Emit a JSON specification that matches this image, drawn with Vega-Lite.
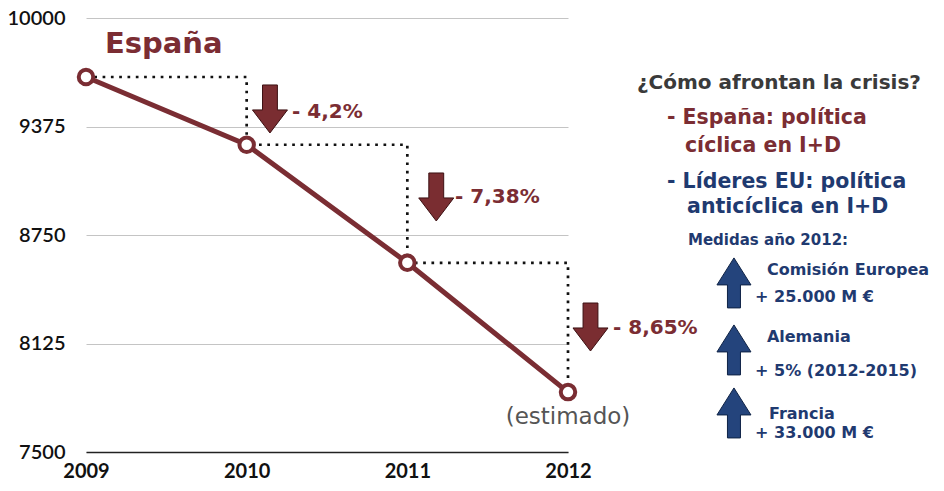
{
  "$schema": "https://vega.github.io/schema/vega-lite/v6.json",
  "width": 482,
  "height": 434,
  "autosize": {"type": "none"},
  "padding": {"left": 86, "top": 18, "right": 376, "bottom": 39},
  "background": "white",
  "config": {"view": {"stroke": null}, "font": "DejaVu Sans"},
  "datasets": {
    "series": [
      {"year": 2009, "value": 9660},
      {"year": 2010, "value": 9270},
      {"year": 2011, "value": 8590},
      {"year": 2012, "value": 7845}
    ],
    "arrows": [
      {"kind": "down", "x": 2010.145, "y": 9476},
      {"kind": "down", "x": 2011.18, "y": 8969},
      {"kind": "down", "x": 2012.14, "y": 8220},
      {"kind": "up", "x": 2013.033, "y": 8474},
      {"kind": "up", "x": 2013.033, "y": 8088},
      {"kind": "up", "x": 2013.033, "y": 7725}
    ],
    "labels": [
      {"kind": "title", "x": 2009.118, "y": 9850, "text": "España"},
      {"kind": "pct", "x": 2010.282, "y": 9459, "text": "- 4,2%"},
      {"kind": "pct", "x": 2011.297, "y": 8969, "text": "- 7,38%"},
      {"kind": "pct", "x": 2012.28, "y": 8214, "text": "- 8,65%"},
      {"kind": "note", "x": 2012.0, "y": 7700, "text": "(estimado)"},
      {"kind": "question", "x": 2012.429, "y": 9626, "text": "¿Cómo afrontan la crisis?"},
      {"kind": "spain", "x": 2012.616, "y": 9424, "text": "- España: política"},
      {"kind": "spain", "x": 2012.728, "y": 9263, "text": "cíclica en I+D"},
      {"kind": "eu", "x": 2012.616, "y": 9055, "text": "- Líderes EU: política"},
      {"kind": "eu", "x": 2012.741, "y": 8911, "text": "anticíclica en I+D"},
      {"kind": "medidas", "x": 2012.747, "y": 8721, "text": "Medidas año 2012:"},
      {"kind": "measure", "x": 2013.238, "y": 8548, "text": "Comisión Europea"},
      {"kind": "measure", "x": 2013.164, "y": 8393, "text": "+ 25.000 M €"},
      {"kind": "measure", "x": 2013.238, "y": 8162, "text": "Alemania"},
      {"kind": "measure", "x": 2013.164, "y": 7967, "text": "+ 5% (2012-2015)"},
      {"kind": "measure", "x": 2013.251, "y": 7719, "text": "Francia"},
      {"kind": "measure", "x": 2013.164, "y": 7609, "text": "+ 33.000 M €"}
    ]
  },
  "layer": [
    {
      "data": {"name": "series"},
      "mark": {"type": "line", "interpolate": "step-after", "stroke": "#111111", "strokeWidth": 2.7, "strokeDash": [2.7, 5.6], "clip": false},
      "encoding": {
        "x": {
          "field": "year", "type": "quantitative",
          "scale": {"domain": [2009, 2012], "nice": false, "zero": false},
          "axis": {
            "values": [2009, 2010, 2011, 2012], "format": "d", "title": null,
            "grid": false, "ticks": false, "domain": true, "domainColor": "#222222", "domainWidth": 1.5,
            "labelFont": "Lato", "labelFontSize": 20, "labelFontWeight": "bold", "labelColor": "#111111",
            "labelPadding": 9, "labelFlush": false
          }
        },
        "y": {
          "field": "value", "type": "quantitative",
          "scale": {"domain": [7500, 10000], "nice": false, "zero": false},
          "axis": {
            "values": [7500, 8125, 8750, 9375, 10000], "format": "d", "title": null,
            "grid": true, "gridColor": "#c4c4c4", "gridWidth": 1, "ticks": false, "domain": false,
            "labelFont": "Lato", "labelFontSize": 20, "labelFontWeight": 600, "labelColor": "#111111", "labelPadding": 21
          }
        }
      }
    },
    {
      "data": {"name": "series"},
      "mark": {"type": "line", "stroke": "#7a2d33", "strokeWidth": 5, "clip": false},
      "encoding": {
        "x": {"field": "year", "type": "quantitative"},
        "y": {"field": "value", "type": "quantitative"}
      }
    },
    {
      "data": {"name": "series"},
      "mark": {"type": "point", "shape": "circle", "size": 210, "filled": false, "fill": "white", "fillOpacity": 1, "stroke": "#7a2d33", "strokeWidth": 4, "opacity": 1, "clip": false},
      "encoding": {
        "x": {"field": "year", "type": "quantitative"},
        "y": {"field": "value", "type": "quantitative"}
      }
    },
    {
      "data": {"name": "arrows"},
      "transform": [{"filter": "datum.kind === 'down'"}],
      "mark": {"type": "point", "shape": "M-0.31,-1L0.31,-1L0.31,0.04L0.73,0.04L0,1L-0.73,0.04L-0.31,0.04Z", "size": 2304, "filled": true, "fill": "#7a2d31", "stroke": "#3d1113", "strokeWidth": 1, "opacity": 1, "clip": false},
      "encoding": {
        "x": {"field": "x", "type": "quantitative"},
        "y": {"field": "y", "type": "quantitative"}
      }
    },
    {
      "data": {"name": "arrows"},
      "transform": [{"filter": "datum.kind === 'up'"}],
      "mark": {"type": "point", "shape": "M0,-1L0.68,0.08L0.26,0.08L0.26,1L-0.26,1L-0.26,0.08L-0.68,0.08Z", "size": 2500, "filled": true, "fill": "#24447c", "stroke": "#0e2245", "strokeWidth": 1, "opacity": 1, "clip": false},
      "encoding": {
        "x": {"field": "x", "type": "quantitative"},
        "y": {"field": "y", "type": "quantitative"}
      }
    },
    {
      "data": {"name": "labels"},
      "transform": [{"filter": "datum.kind === 'title'"}],
      "mark": {"type": "text", "align": "left", "baseline": "middle", "font": "DejaVu Sans", "fontWeight": "bold", "fontSize": 29, "fill": "#7b2d33", "clip": false},
      "encoding": {"x": {"field": "x", "type": "quantitative"}, "y": {"field": "y", "type": "quantitative"}, "text": {"field": "text"}}
    },
    {
      "data": {"name": "labels"},
      "transform": [{"filter": "datum.kind === 'pct'"}],
      "mark": {"type": "text", "align": "left", "baseline": "middle", "font": "DejaVu Sans", "fontWeight": "bold", "fontSize": 20, "fill": "#7b2d33", "clip": false},
      "encoding": {"x": {"field": "x", "type": "quantitative"}, "y": {"field": "y", "type": "quantitative"}, "text": {"field": "text"}}
    },
    {
      "data": {"name": "labels"},
      "transform": [{"filter": "datum.kind === 'note'"}],
      "mark": {"type": "text", "align": "center", "baseline": "middle", "font": "DejaVu Sans", "fontSize": 23, "fill": "#555555", "clip": false},
      "encoding": {"x": {"field": "x", "type": "quantitative"}, "y": {"field": "y", "type": "quantitative"}, "text": {"field": "text"}}
    },
    {
      "data": {"name": "labels"},
      "transform": [{"filter": "datum.kind === 'question'"}],
      "mark": {"type": "text", "align": "left", "baseline": "middle", "font": "DejaVu Sans", "fontWeight": "bold", "fontSize": 20, "fill": "#3a3a3a", "clip": false},
      "encoding": {"x": {"field": "x", "type": "quantitative"}, "y": {"field": "y", "type": "quantitative"}, "text": {"field": "text"}}
    },
    {
      "data": {"name": "labels"},
      "transform": [{"filter": "datum.kind === 'spain'"}],
      "mark": {"type": "text", "align": "left", "baseline": "middle", "font": "DejaVu Sans", "fontWeight": "bold", "fontSize": 20.5, "fill": "#7b2d33", "clip": false},
      "encoding": {"x": {"field": "x", "type": "quantitative"}, "y": {"field": "y", "type": "quantitative"}, "text": {"field": "text"}}
    },
    {
      "data": {"name": "labels"},
      "transform": [{"filter": "datum.kind === 'eu'"}],
      "mark": {"type": "text", "align": "left", "baseline": "middle", "font": "DejaVu Sans", "fontWeight": "bold", "fontSize": 20.5, "fill": "#1f3a70", "clip": false},
      "encoding": {"x": {"field": "x", "type": "quantitative"}, "y": {"field": "y", "type": "quantitative"}, "text": {"field": "text"}}
    },
    {
      "data": {"name": "labels"},
      "transform": [{"filter": "datum.kind === 'medidas'"}],
      "mark": {"type": "text", "align": "left", "baseline": "middle", "font": "DejaVu Sans", "fontWeight": "bold", "fontSize": 15, "fill": "#1f3a70", "clip": false},
      "encoding": {"x": {"field": "x", "type": "quantitative"}, "y": {"field": "y", "type": "quantitative"}, "text": {"field": "text"}}
    },
    {
      "data": {"name": "labels"},
      "transform": [{"filter": "datum.kind === 'measure'"}],
      "mark": {"type": "text", "align": "left", "baseline": "middle", "font": "DejaVu Sans", "fontWeight": "bold", "fontSize": 16, "fill": "#1f3a70", "clip": false},
      "encoding": {"x": {"field": "x", "type": "quantitative"}, "y": {"field": "y", "type": "quantitative"}, "text": {"field": "text"}}
    }
  ]
}
